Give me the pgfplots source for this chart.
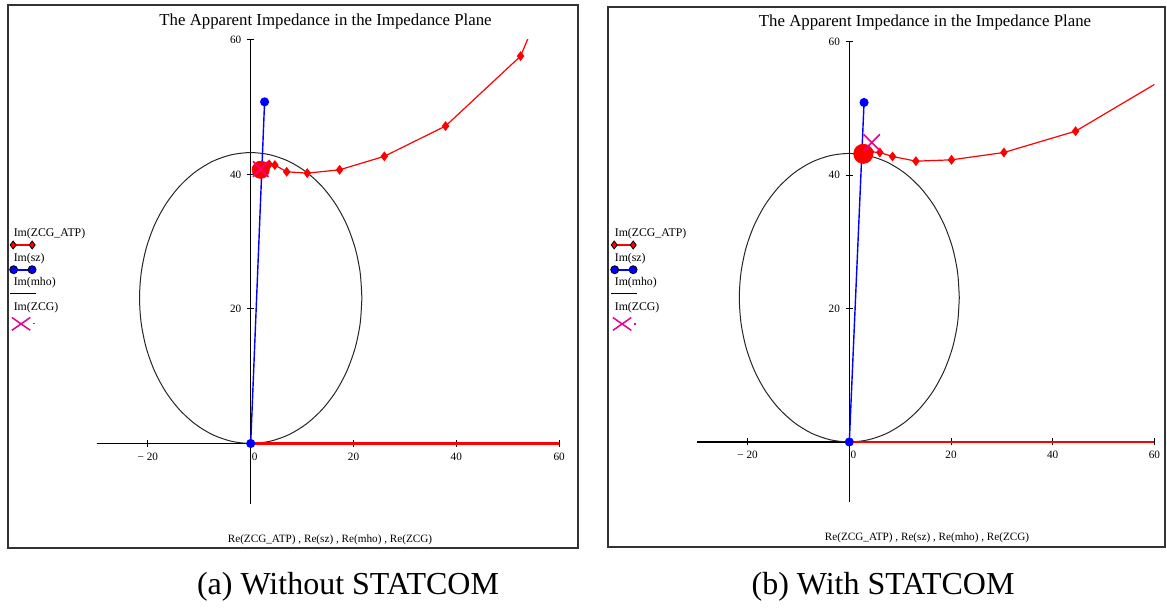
\documentclass[border=0pt]{standalone}
\usepackage{fontspec}
\setmainfont{Liberation Serif}
\usepackage{pgfplots}
\pgfplotsset{compat=1.18}

\pgfplotstableread{
x y
21.63 21.63
21.30 25.39
20.33 29.03
18.73 32.45
16.57 35.53
13.90 38.20
10.82 40.36
7.40 41.96
3.76 42.93
0 43.26
-3.76 42.93
-7.40 41.96
-10.82 40.36
-13.90 38.20
-16.57 35.53
-18.73 32.45
-20.33 29.03
-21.30 25.39
-21.63 21.63
-21.30 17.87
-20.33 14.23
-18.73 10.82
-16.57 7.73
-13.90 5.06
-10.82 2.90
-7.40 1.30
-3.76 0.33
0 0
3.76 0.33
7.40 1.30
10.82 2.90
13.90 5.06
16.57 7.73
18.73 10.82
20.33 14.23
21.30 17.87
21.63 21.63
}\mho

\pgfplotstableread{
x y
1.6 40.3
2.0 40.9
2.4 40.5
3.0 41.2
3.6 41.5
4.7 41.4
7.0 40.4
11.0 40.2
17.3 40.7
26.0 42.7
37.9 47.2
52.5 57.6
55.2 62.5
}\atpA

\pgfplotstableread{
x y
2.3 42.9
2.8 43.4
3.3 43.0
4.2 43.5
6.0 43.4
8.5 42.8
13.1 42.1
20.1 42.3
30.4 43.4
44.5 46.6
62.0 54.5
}\atpB

\pgfplotsset{
  imp/.style={
    anchor=south west, axis lines=middle, enlargelimits=false,
    xmin=-30, xmax=60, ymin=-9, ymax=60,
    xtick={-20,0,20,40,60}, xticklabels={{−\ 20},{\hspace{4pt}0},20,40,60},
    ytick={20,40,60},
    axis line style={-, black, line width=0.55pt},
    tick style={black, line width=0.5pt},
    major tick length=3.5pt, tick align=center,
    hide obscured x ticks=false, hide obscured y ticks=false,
    /pgf/number format/assume math mode=true,
    tick label style={font=\fontsize{5.6}{6}\selectfont},
    xticklabel style={anchor=north, yshift=0.5pt},
    yticklabel style={anchor=east, xshift=0.6pt},
    legend cell align=left,
    legend style={draw=none, fill=none, inner sep=0pt, outer sep=0pt,
      row sep=6.75pt, column sep=0pt, anchor=north west,
      font=\fontsize{5.9}{6}\selectfont,
      nodes={inner sep=0pt, text height=4.2pt, text depth=1.3pt}},
  },
  legATP/.style={legend image code/.code={\path (0,0);
    \pgfinterruptboundingbox
    \draw[red, line width=1pt] (-1.5pt,-5.5pt) -- (11pt,-5.5pt);
    \path[fill=red] plot[only marks, mark=diamond*, mark size=2pt] coordinates {(-0.1pt,-5.5pt) (9.4pt,-5.5pt)};
    \endpgfinterruptboundingbox}},
  legSZ/.style={legend image code/.code={\path (0,0);
    \pgfinterruptboundingbox
    \draw[blue, line width=1pt] (0.15pt,-5.6pt) -- (9.35pt,-5.6pt);
    \path[fill=blue] plot[only marks, mark=*, mark size=2pt] coordinates {(0.15pt,-5.6pt) (9.35pt,-5.6pt)};
    \endpgfinterruptboundingbox}},
  legMHO/.style={legend image code/.code={\path (0,0);
    \pgfinterruptboundingbox
    \draw[black, line width=0.6pt] (-1.5pt,-5.25pt) -- (11.5pt,-5.25pt);
    \endpgfinterruptboundingbox}},
  legZCG/.style={legend image code/.code={\path (0,0);
    \pgfinterruptboundingbox
    \draw[magenta, line width=0.75pt] (3.85pt,-8.2pt) ++(-4.6pt,-3.2pt) -- ++(9.2pt,6.4pt);
    \draw[magenta, line width=0.75pt] (3.85pt,-8.2pt) ++(-4.6pt,3.2pt) -- ++(9.2pt,-6.4pt);
    \draw[magenta, line width=0.6pt] (9.8pt,-8.2pt) -- (10.6pt,-8.2pt);
    \endpgfinterruptboundingbox}},
}

\begin{document}
\begin{tikzpicture}
\path (0,0) rectangle (583.5pt,-302.5pt);
% frames
\draw[black!80, line width=0.8pt] (4pt,-2.5pt) rectangle (289pt,-274pt);
\draw[black!80, line width=0.8pt] (304pt,-3.5pt) rectangle (582.5pt,-273.5pt);
% titles
\node[font=\fontsize{8.4}{10}\selectfont] at (162.75pt,-10.5pt) {The Apparent Impedance in the Impedance Plane};
\node[font=\fontsize{8.4}{10}\selectfont] at (462.5pt,-11pt) {The Apparent Impedance in the Impedance Plane};
% x labels
\node[font=\fontsize{5.6}{6}\selectfont] at (165pt,-270pt) {Re(ZCG\_ATP) , Re(sz) , Re(mho) , Re(ZCG)};
\node[font=\fontsize{5.6}{6}\selectfont] at (463.5pt,-268.75pt) {Re(ZCG\_ATP) , Re(sz) , Re(mho) , Re(ZCG)};
% captions
\node[font=\fontsize{16}{19}\selectfont] at (174pt,-293.5pt) {(a) Without STATCOM};
\node[font=\fontsize{16}{19}\selectfont] at (441.5pt,-293.5pt) {(b) With STATCOM};

% ---------- panel (a)
\begin{axis}[imp, at={(48.25pt,-252pt)}, x=2.57pt, y=3.3625pt,
  legend style={at={(axis cs:-46.25,31.97)}}]
\addlegendimage{legATP}\addlegendentry{Im(ZCG\_ATP)}
\addlegendimage{legSZ}\addlegendentry{Im(sz)}
\addlegendimage{legMHO}\addlegendentry{Im(mho)}
\addlegendimage{legZCG}\addlegendentry{Im(ZCG)}
\addplot[black!85, line width=0.5pt, smooth, forget plot] table {\mho};
\addplot[red, line width=1.2pt, forget plot] coordinates {(0,0) (60,0)};
\addplot[red, line width=0.6pt, mark=diamond*, mark size=2pt, mark options={solid}, forget plot] table {\atpA};
\addplot[red, only marks, mark=*, mark size=4.3pt, forget plot] coordinates {(1.95,40.7)};
\addplot[blue, line width=0.7pt, mark=*, mark size=1.9pt, forget plot] coordinates {(0,0) (2.7,50.8)};
\addplot[magenta, only marks, mark=x, mark size=5.5pt, mark options={line width=0.8pt}, forget plot] coordinates {(1.95,40.8)};
\end{axis}

% ---------- panel (b)
\begin{axis}[imp, at={(348.375pt,-251pt)}, x=2.5425pt, y=3.335pt,
  legend style={at={(axis cs:-46.27,32.0)}}]
\addlegendimage{legATP}\addlegendentry{Im(ZCG\_ATP)}
\addlegendimage{legSZ}\addlegendentry{Im(sz)}
\addlegendimage{legMHO}\addlegendentry{Im(mho)}
\addlegendimage{legZCG}\addlegendentry{Im(ZCG)}
\addplot[black!85, line width=0.5pt, smooth, forget plot] table {\mho};
\addplot[red, line width=1.2pt, forget plot] coordinates {(0,0) (60,0)};
\addplot[red, line width=0.6pt, mark=diamond*, mark size=2pt, mark options={solid}, forget plot] table {\atpB};
\addplot[red, only marks, mark=*, mark size=4.8pt, forget plot] coordinates {(2.75,43.2)};
\addplot[blue, line width=0.7pt, mark=*, mark size=1.9pt, forget plot] coordinates {(0,0) (2.9,50.9)};
\addplot[magenta, only marks, mark=x, mark size=5.8pt, mark options={line width=0.8pt}, forget plot] coordinates {(4.4,44.9)};
\end{axis}
\end{tikzpicture}
\end{document}
